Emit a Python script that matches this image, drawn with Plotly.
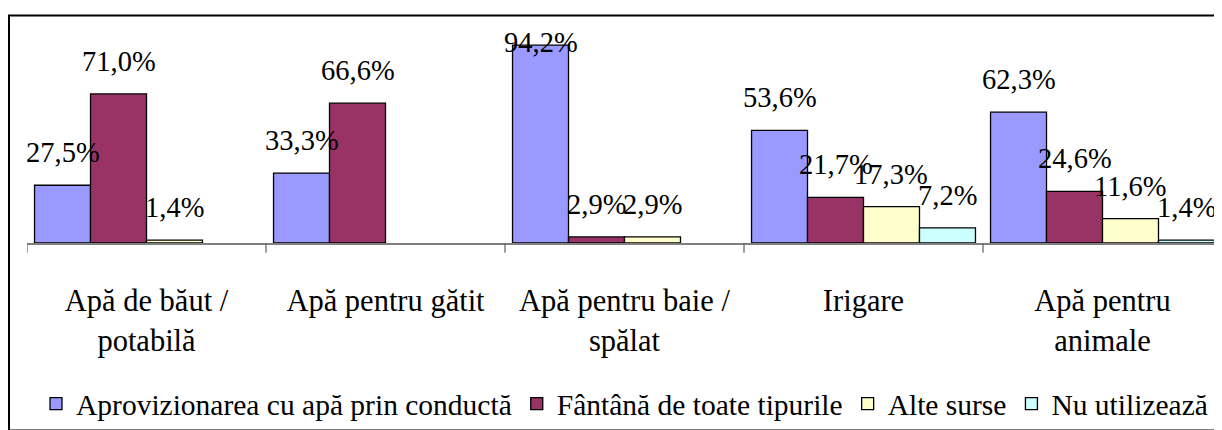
import plotly.graph_objects as go

categories = ["Apă de băut /<br>potabilă", "Apă pentru gătit", "Apă pentru baie /<br>spălat",
              "Irigare", "Apă pentru<br>animale"]
series_names = ["Aprovizionarea cu apă prin conductă", "Fântână de toate tipurile",
                "Alte surse", "Nu utilizează"]
conducta = [27.5, 33.3, 94.2, 53.6, 62.3]
fantana = [71.0, 66.6, 2.9, 21.7, 24.6]
alte = [1.4, None, 2.9, 17.3, 11.6]
nu_utilizeaza = [None, None, None, 7.2, 1.4]
series_values = [conducta, fantana, alte, nu_utilizeaza]
colors = ["#9999FF", "#993366", "#FFFFCC", "#CCFFFF"]

# page has an 8px body margin, so the figure is drawn 8px smaller
W, H = 1214, 422
ML, MR, MT, MB = 19, 0, 25, 182
PW = W - ML - MR
PH = H - MT - MB
YMAX = 100
BARGAP = 0.063
FONT = "Liberation Serif"

fig = go.Figure()
for name, vals, col in zip(series_names, series_values, colors):
    fig.add_trace(go.Bar(
        x=list(range(len(categories))), y=vals, name=name,
        marker=dict(color=col, line=dict(color="black", width=1.3)),
        hoverinfo="skip",
    ))

# data labels above bars, kept inside plot area
px_per_unit = PH / YMAX
nser = len(series_values)
bw = (1 - BARGAP) / nser
annotations = []
for j, vals in enumerate(series_values):
    for i, v in enumerate(vals):
        if v is None:
            continue
        room = (YMAX - v) * px_per_unit  # pixels from bar top to plot top
        shift = min(15, room - 27)
        annotations.append(dict(
            x=i + (j - (nser - 1) / 2) * bw, y=v, xref="x", yref="y",
            text=f"{v:.1f}%".replace(".", ","), showarrow=False,
            yanchor="bottom", xanchor="center", yshift=shift,
            font=dict(family=FONT, size=28.5, color="black"),
        ))

fig.update_layout(
    width=W, height=H,
    margin=dict(l=ML, r=MR, t=MT, b=MB),
    paper_bgcolor="white", plot_bgcolor="white",
    barmode="group", bargap=BARGAP, bargroupgap=0,
    font=dict(family=FONT, size=30, color="black"),
    showlegend=True,
    legend=dict(orientation="h", x=0.5, xanchor="center", y=(0 - 165) / PH,
                yanchor="middle", font=dict(family=FONT, size=29.5, color="black"),
                bgcolor="rgba(0,0,0,0)"),
    xaxis=dict(
        tickmode="array", tickvals=list(range(len(categories))), ticktext=categories,
        range=[-0.5, len(categories) - 0.5],
        showline=True, linecolor="#808080", linewidth=1.5,
        ticks="", showgrid=False, zeroline=False,
        tickfont=dict(family=FONT, size=30.5, color="black"),
        ticklabelstandoff=30,
    ),
    yaxis=dict(range=[0, YMAX], visible=False, showgrid=False, zeroline=False),
    annotations=annotations,
)

# tick marks at category boundaries
shapes = []
for k in range(len(categories) + 1):
    shapes.append(dict(type="line", xref="x", yref="paper", x0=k - 0.5, x1=k - 0.5,
                       y0=0, y1=-10 / PH, line=dict(color="#606060", width=1.2)))
# chart border
shapes.append(dict(type="rect", xref="paper", yref="paper",
                   x0=(1 - ML) / PW, x1=1.02,
                   y0=-(H + 10 - MT - PH) / PH, y1=(PH + MT - 7) / PH,
                   line=dict(color="black", width=2), fillcolor="rgba(0,0,0,0)",
                   layer="below"))
fig.update_layout(shapes=shapes)

fig.write_html("out.html")
